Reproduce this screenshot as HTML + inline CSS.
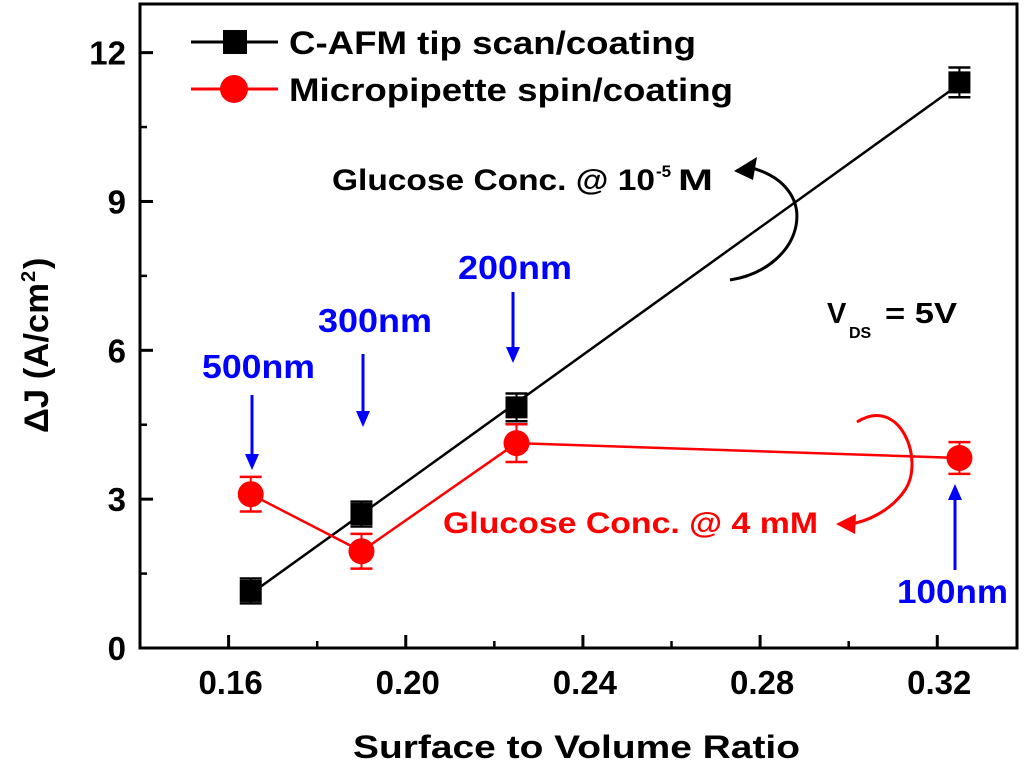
<!DOCTYPE html>
<html><head><meta charset="utf-8"><style>
body{margin:0;background:#fff}
svg{display:block;font-family:"Liberation Sans",Arial,sans-serif;font-weight:bold}
</style></head><body>
<svg width="1024" height="766" viewBox="0 0 1024 766">
<g id="axes"></g><g id="marks"></g>
<text x="353" y="758" font-size="32" textLength="447" lengthAdjust="spacingAndGlyphs">Surface to Volume Ratio</text>
<g transform="translate(48,339) rotate(-90)">
<text x="-94" y="0" font-size="34" textLength="150" lengthAdjust="spacingAndGlyphs">ΔJ (A/cm</text>
<text x="57" y="-13" font-size="20">2</text>
<text x="70" y="0" font-size="34">)</text>
</g>
<g>
<line x1="191" y1="42" x2="278" y2="42" stroke="#000" stroke-width="3"/>
<rect x="223" y="30" width="24" height="24" fill="#000"/>
<text x="289" y="54" font-size="32" textLength="407" lengthAdjust="spacingAndGlyphs">C-AFM tip scan/coating</text>
<line x1="191" y1="89" x2="278" y2="89" stroke="#f00" stroke-width="3"/>
<circle cx="234" cy="89" r="14" fill="#f00"/>
<text x="289" y="101" font-size="32" textLength="444" lengthAdjust="spacingAndGlyphs">Micropipette spin/coating</text>
</g>
<g>
<text x="332" y="190" font-size="30" textLength="323" lengthAdjust="spacingAndGlyphs">Glucose Conc. @ 10</text>
<text x="656" y="177" font-size="17">-5</text>
<text x="678" y="190" font-size="30" textLength="35" lengthAdjust="spacingAndGlyphs">M</text>
</g>
<path d="M730,280 C805,268 825,185 748,167" fill="none" stroke="#000" stroke-width="3"/>
<polygon points="734,171 757,157 753,180" fill="#000"/>
<g>
<text x="827" y="323" font-size="29">V</text>
<text x="849" y="338" font-size="16">DS</text>
<text x="885" y="323" font-size="29" textLength="72" lengthAdjust="spacingAndGlyphs">= 5V</text>
</g>
<text x="443" y="533" font-size="30" fill="#f00" textLength="375" lengthAdjust="spacingAndGlyphs">Glucose Conc. @ 4 mM</text>
<path d="M857,422 C900,395 925,460 905,490 C890,512 865,522 850,524" fill="none" stroke="#f00" stroke-width="3"/>
<polygon points="836,524 856,514 855,534" fill="#f00"/>
<g fill="#00f" font-size="33">
<text x="202" y="378" textLength="113" lengthAdjust="spacingAndGlyphs">500nm</text>
<text x="318" y="332" textLength="114" lengthAdjust="spacingAndGlyphs">300nm</text>
<text x="458" y="279" textLength="114" lengthAdjust="spacingAndGlyphs">200nm</text>
<text x="897" y="603" textLength="111" lengthAdjust="spacingAndGlyphs">100nm</text>
</g>
<g stroke="#00f" stroke-width="3" fill="#00f">
<line x1="252" y1="395" x2="252" y2="458"/><polygon points="245,454 259,454 252,470" stroke="none"/>
<line x1="363" y1="354" x2="363" y2="414"/><polygon points="356,411 370,411 363,427" stroke="none"/>
<line x1="513" y1="292" x2="513" y2="350"/><polygon points="506,347 520,347 513,363" stroke="none"/>
<line x1="955" y1="570" x2="955" y2="498"/><polygon points="948,500 962,500 955,484" stroke="none"/>
</g>
</svg>
<script>
const xTicks=[0.16,0.20,0.24,0.28,0.32];
const xTickLabels=["0.16","0.20","0.24","0.28","0.32"];
const xMinorTicks=[0.18,0.22,0.26,0.30];
const yTicks=[0,3,6,9,12];
const yTickLabels=["0","3","6","9","12"];
const ratios=[0.165,0.19,0.225,0.325];
const cafm=[1.15,2.7,4.85,11.4];
const cafmErr=[0.25,0.25,0.28,0.3];
const pipette=[3.1,1.95,4.13,3.83];
const pipetteErr=[0.35,0.35,0.38,0.32];
const L=140,R=1017,T=4,B=648,x0=0.14,x1=0.338,y0=0,y1=12.98;
const X=v=>L+(v-x0)/(x1-x0)*(R-L);
const Y=v=>B-(v-y0)/(y1-y0)*(B-T);
const NS="http://www.w3.org/2000/svg";
function mk(p,t,a){const e=document.createElementNS(NS,t);for(const k in a)e.setAttribute(k,a[k]);p.appendChild(e);return e;}
const ax=document.getElementById('axes'),mg=document.getElementById('marks');
const frame=mk(ax,'rect',{x:L,y:T,width:R-L,height:B-T,fill:'none',stroke:'#000','stroke-width':3});


xTicks.forEach((v,i)=>{
 const t=mk(ax,'line',{x1:X(v),x2:X(v),y1:B,y2:B-13,stroke:'#000','stroke-width':3});
 
 
 const l=mk(ax,'text',{x:X(v)+2,y:694,'font-size':33,'text-anchor':'middle'});l.textContent=xTickLabels[i];
 
 
});
xMinorTicks.forEach(v=>{
 const m=mk(ax,'line',{x1:X(v),x2:X(v),y1:B,y2:B-7,stroke:'#000','stroke-width':2.5});
 
 
});
yTicks.forEach((v,i)=>{
 const t=mk(ax,'line',{x1:L,x2:L+13,y1:Y(v),y2:Y(v),stroke:'#000','stroke-width':3});
 
 
 const m=mk(ax,'line',{x1:L,x2:L+7,y1:Y(v+1.5),y2:Y(v+1.5),stroke:'#000','stroke-width':2.5});
 
 
 const l=mk(ax,'text',{x:126,y:Y(v)+12,'font-size':33,'text-anchor':'end'});l.textContent=yTickLabels[i];
 
 
});
const n=ratios.length,mx=ratios.reduce((a,b)=>a+b)/n,my=cafm.reduce((a,b)=>a+b)/n;
let sxy=0,sxx=0;ratios.forEach((x,i)=>{sxy+=(x-mx)*(cafm[i]-my);sxx+=(x-mx)**2;});
const sl=sxy/sxx,ic=my-sl*mx;
const fit=mk(mg,'line',{x1:X(ratios[0]),y1:Y(ic+sl*ratios[0]),x2:X(ratios[n-1]),y2:Y(ic+sl*ratios[n-1]),stroke:'#000','stroke-width':2.5});


const pl=mk(mg,'polyline',{points:ratios.map((x,i)=>X(x)+','+Y(pipette[i])).join(' '),fill:'none',stroke:'#f00','stroke-width':2.5});


function err(x,y,e,c){
 mk(mg,'line',{x1:X(x),x2:X(x),y1:Y(y-e),y2:Y(y+e),stroke:c,'stroke-width':2});
 mk(mg,'line',{x1:X(x)-11,x2:X(x)+11,y1:Y(y-e),y2:Y(y-e),stroke:c,'stroke-width':2.5});
 mk(mg,'line',{x1:X(x)-11,x2:X(x)+11,y1:Y(y+e),y2:Y(y+e),stroke:c,'stroke-width':2.5});
}
ratios.forEach((x,i)=>{
 err(x,cafm[i],cafmErr[i],'#000');
 const s=mk(mg,'rect',{x:X(x)-11,y:Y(cafm[i])-11,width:22,height:22,fill:'#000'});
 
 
 err(x,pipette[i],pipetteErr[i],'#f00');
 const c=mk(mg,'circle',{cx:X(x),cy:Y(pipette[i]),r:13,fill:'#f00'});
 
 
});
</script>
</body></html>
